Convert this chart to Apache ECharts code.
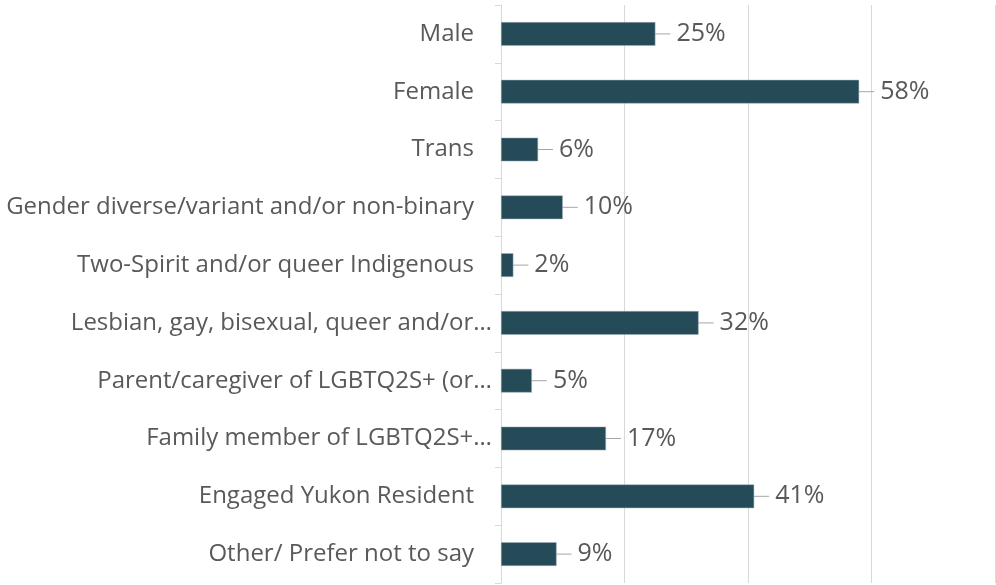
<!DOCTYPE html>
<html>
<head>
<meta charset="utf-8">
<script src="https://cdn.jsdelivr.net/npm/echarts@6/dist/echarts.min.js"></script>
<style>
html, body { margin: 0; padding: 0; background: #fff; }
#bar { width: 996px; height: 585px; }
</style>
</head>
<body>
<div id="bar"></div>
<script>
var categories = [
    'Male',
    'Female',
    'Trans',
    'Gender diverse/variant and/or non-binary',
    'Two-Spirit and/or queer Indigenous',
    'Lesbian, gay, bisexual, queer and/or…',
    'Parent/caregiver of LGBTQ2S+ (or…',
    'Family member of LGBTQ2S+…',
    'Engaged Yukon Resident',
    'Other/ Prefer not to say'
];
var percents = [25, 58, 6, 10, 2, 32, 5, 17, 41, 9];
var gridTicks = [0, 20, 40, 60, 80];

var dom = document.getElementById("bar");
var myChart = echarts.init(dom);
var fontName = '"Open Sans", sans-serif';

var option = {
    animation: false,
    grid: {
        left: 501,
        right: 1,
        top: 5,
        bottom: 2,
        containLabel: false
    },
    xAxis: {
        type: 'value',
        min: gridTicks[0],
        max: gridTicks[gridTicks.length - 1],
        interval: gridTicks[1] - gridTicks[0],
        axisLabel: { show: false },
        axisLine: { show: false },
        axisTick: { show: false },
        splitLine: { lineStyle: { color: '#d9d9d9', width: 1 } }
    },
    yAxis: {
        type: 'category',
        inverse: true,
        data: categories,
        axisLine: { lineStyle: { color: '#d9d9d9', width: 1 } },
        axisTick: { show: true, length: 6, lineStyle: { color: '#d9d9d9' } },
        axisLabel: {
            margin: 9,
            fontFamily: fontName,
            fontSize: 24,
            color: '#595959',
            formatter: function (v) {
                if (v.charAt(v.length - 1) === '…') return '{t|' + v + '}';
                return '{p|' + v + '}';
            },
            rich: {
                t: { fontFamily: fontName, fontSize: 24, color: '#595959' },
                p: { fontFamily: fontName, fontSize: 24, color: '#595959', padding: [0, 18, 0, 0] }
            }
        }
    },
    series: [
        {
            type: 'bar',
            data: percents,
            barWidth: '41%',
            itemStyle: { color: '#254b59', borderColor: '#9fb3ba', borderWidth: 0.5 },
            label: {
                show: true,
                position: 'right',
                distance: 0,
                fontFamily: fontName,
                fontSize: 25,
                color: '#595959',
                formatter: '{g|}{v|{c}%}',
                rich: {
                    g: { width: 6 },
                    v: { fontFamily: fontName, fontSize: 25, color: '#595959' }
                }
            },
            labelLayout: { dx: 15 },
            labelLine: {
                show: true,
                lineStyle: { color: '#a6a6a6', width: 1 }
            }
        }
    ]
};
myChart.setOption(option, true);
</script>
</body>
</html>
